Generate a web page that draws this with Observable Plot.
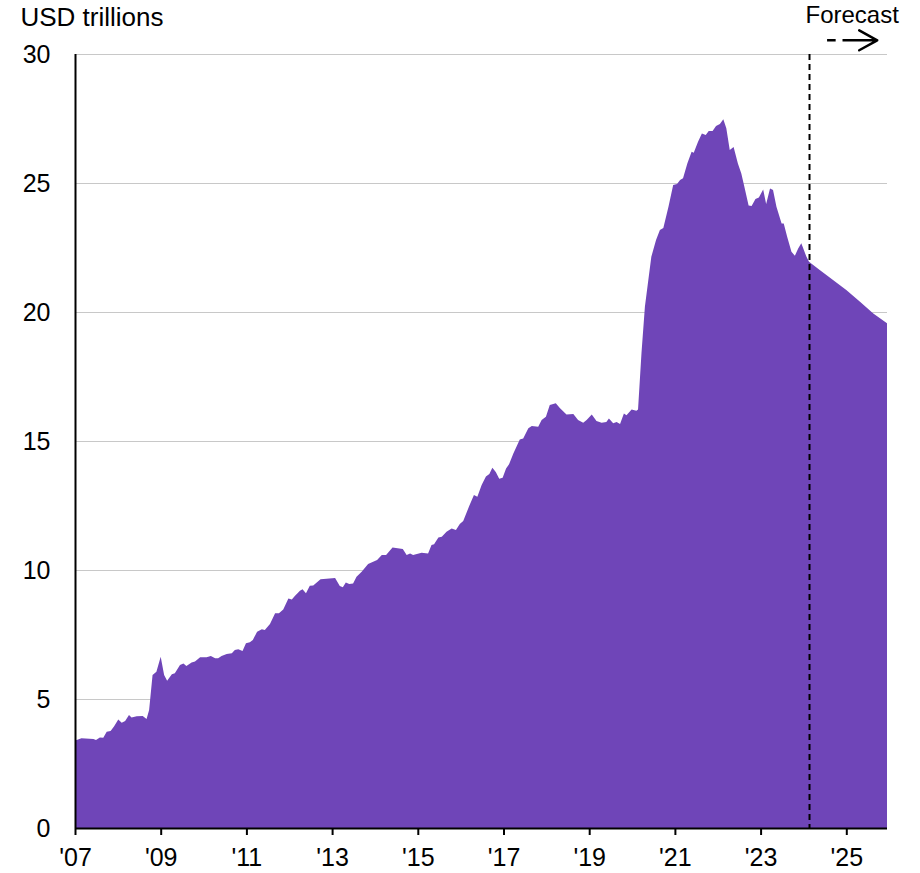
<!DOCTYPE html>
<html>
<head>
<meta charset="utf-8">
<script src="https://cdn.jsdelivr.net/npm/d3@7"></script>
<script src="https://cdn.jsdelivr.net/npm/@observablehq/plot@0.6"></script>
<style>
  html, body { margin: 0; padding: 0; background: #fff; }
</style>
</head>
<body>
<div id="chart"></div>
<script>
// decimal-year dates and values (USD trillions)
const dates = [
  2007.00, 2007.04, 2007.15, 2007.43, 2007.49, 2007.58, 2007.66, 2007.74, 2007.83, 2007.91,
  2008.01, 2008.09, 2008.17, 2008.26, 2008.32, 2008.44, 2008.58, 2008.67, 2008.73, 2008.81,
  2008.90, 2009.00, 2009.08, 2009.15, 2009.26, 2009.33, 2009.45, 2009.53, 2009.60, 2009.72,
  2009.80, 2009.92, 2010.07, 2010.17, 2010.27, 2010.34, 2010.42, 2010.54, 2010.66, 2010.73,
  2010.81, 2010.91, 2010.99, 2011.08, 2011.15, 2011.25, 2011.36, 2011.43, 2011.55, 2011.67,
  2011.76, 2011.86, 2011.98, 2012.06, 2012.13, 2012.25, 2012.31, 2012.39, 2012.48, 2012.56,
  2012.73, 2012.87, 2013.07, 2013.18, 2013.25, 2013.32, 2013.40, 2013.49, 2013.57, 2013.69,
  2013.84, 2014.05, 2014.16, 2014.26, 2014.41, 2014.65, 2014.74, 2014.82, 2014.89, 2015.09,
  2015.24, 2015.32, 2015.38, 2015.48, 2015.56, 2015.67, 2015.79, 2015.89, 2015.98, 2016.06,
  2016.20, 2016.31, 2016.39, 2016.49, 2016.59, 2016.67, 2016.74, 2016.82, 2016.90, 2016.98,
  2017.06, 2017.13, 2017.23, 2017.38, 2017.46, 2017.58, 2017.66, 2017.81, 2017.89, 2017.99,
  2018.08, 2018.22, 2018.32, 2018.47, 2018.63, 2018.74, 2018.86, 2018.94, 2019.06, 2019.17,
  2019.29, 2019.40, 2019.46, 2019.56, 2019.64, 2019.72, 2019.81, 2019.87, 2019.99, 2020.10,
  2020.14, 2020.22, 2020.30, 2020.38, 2020.45, 2020.56, 2020.65, 2020.73, 2020.85, 2020.96,
  2021.05, 2021.12, 2021.19, 2021.29, 2021.39, 2021.44, 2021.54, 2021.63, 2021.72, 2021.79,
  2021.88, 2021.96, 2022.05, 2022.13, 2022.20, 2022.28, 2022.37, 2022.47, 2022.55, 2022.62,
  2022.72, 2022.79, 2022.88, 2022.96, 2023.06, 2023.13, 2023.22, 2023.29, 2023.37, 2023.49,
  2023.54, 2023.62, 2023.72, 2023.80, 2023.88, 2023.95, 2024.07, 2024.13, 2024.38, 2024.69,
  2025.00, 2025.32, 2025.63, 2025.95
];
const values = [
  3.40, 3.41, 3.48, 3.45, 3.41, 3.51, 3.50, 3.73, 3.76, 3.93,
  4.21, 4.08, 4.15, 4.38, 4.28, 4.33, 4.34, 4.22, 4.57, 5.93,
  6.06, 6.64, 5.93, 5.71, 5.96, 6.00, 6.32, 6.38, 6.28, 6.41,
  6.45, 6.62, 6.62, 6.67, 6.58, 6.58, 6.67, 6.74, 6.77, 6.90,
  6.93, 6.86, 7.16, 7.20, 7.29, 7.61, 7.70, 7.67, 7.91, 8.32,
  8.32, 8.47, 8.90, 8.86, 8.99, 9.20, 9.25, 9.10, 9.39, 9.40,
  9.64, 9.66, 9.69, 9.38, 9.33, 9.52, 9.46, 9.48, 9.74, 9.93,
  10.23, 10.39, 10.58, 10.58, 10.87, 10.81, 10.58, 10.64, 10.58, 10.67,
  10.64, 10.97, 11.00, 11.26, 11.29, 11.48, 11.61, 11.55, 11.78, 11.90,
  12.48, 12.91, 12.84, 13.29, 13.62, 13.72, 13.96, 13.80, 13.54, 13.58,
  13.93, 14.10, 14.52, 15.06, 15.10, 15.49, 15.58, 15.55, 15.81, 15.94,
  16.40, 16.46, 16.27, 16.03, 16.05, 15.81, 15.71, 15.81, 16.03, 15.78,
  15.71, 15.74, 15.87, 15.69, 15.74, 15.66, 16.07, 16.00, 16.22, 16.17,
  16.22, 18.40, 20.20, 21.24, 22.14, 22.79, 23.18, 23.26, 24.08, 24.92,
  24.96, 25.12, 25.18, 25.76, 26.21, 26.17, 26.60, 26.92, 26.86, 27.02,
  27.02, 27.21, 27.29, 27.47, 27.12, 26.28, 26.40, 25.76, 25.37, 24.86,
  24.13, 24.11, 24.38, 24.44, 24.75, 24.19, 24.79, 24.73, 24.08, 23.43,
  23.43, 22.92, 22.34, 22.18, 22.47, 22.66, 22.14, 21.95, 21.63, 21.24,
  20.85, 20.40, 19.94, 19.56
];
const xTicks = [2007, 2009, 2011, 2013, 2015, 2017, 2019, 2021, 2023, 2025];
const yTicks = [0, 5, 10, 15, 20, 25, 30];
const forecastStart = 2024.13;
const unitLabel = "USD trillions";
const forecastLabel = "Forecast";

const data = dates.map((d, i) => ({date: d, value: values[i]}));

// arrow annotation (years after the forecast start)
const arrowY = 30.55;
const arrowFrom = forecastStart + 0.14;   // hidden lead-in so the head can be large
const dash1From = forecastStart + 0.41, dash1To = forecastStart + 0.61;
const dash2From = forecastStart + 0.77, tipAt = forecastStart + 1.58;

const chart = Plot.plot({
  width: 920,
  height: 873,
  marginLeft: 75,
  marginRight: 33,
  marginTop: 54,
  marginBottom: 45,
  style: {fontFamily: "'Liberation Sans', Arial, sans-serif", fontSize: "25px", color: "#000", background: "#fff"},
  x: {domain: [2007, 2025.95]},
  y: {domain: [0, 30]},
  marks: [
    Plot.gridY(yTicks, {stroke: "#c8c8c8", strokeOpacity: 1, strokeWidth: 1}),
    Plot.areaY(data, {x: "date", y: "value", fill: "#6f45b8", curve: "linear"}),
    Plot.ruleX([forecastStart], {stroke: "#000", strokeWidth: 2, strokeDasharray: "6,4"}),
    Plot.ruleY([0], {stroke: "#000", strokeWidth: 2}),
    Plot.ruleX([2007], {stroke: "#000", strokeWidth: 2}),
    Plot.axisX(xTicks, {tickSize: 7, tickPadding: 13, strokeWidth: 2, label: null,
      tickFormat: d => "'" + String(d).slice(2), fontSize: 25}),
    Plot.axisY(yTicks, {tickSize: 0, tickPadding: 25, label: null, fontSize: 25}),
    Plot.text([unitLabel], {frameAnchor: "top-left", textAnchor: "start", lineAnchor: "middle", dx: -55, dy: -37, fontSize: 26}),
    Plot.text([forecastLabel], {x: [forecastStart], frameAnchor: "top", textAnchor: "start", lineAnchor: "middle", dx: -4, dy: -39, fontSize: 24}),
    // solid arrow, then white overlays carve out the dashes
    Plot.arrow([0], {x1: arrowFrom, x2: tipAt, y1: arrowY, y2: arrowY, stroke: "#000", strokeWidth: 2.5, headLength: 20, headAngle: 58}),
    Plot.link([0], {x1: arrowFrom - 0.05, x2: dash1From, y1: arrowY, y2: arrowY, stroke: "#fff", strokeWidth: 5}),
    Plot.link([0], {x1: dash1To, x2: dash2From, y1: arrowY, y2: arrowY, stroke: "#fff", strokeWidth: 5})
  ]
});
document.getElementById("chart").appendChild(chart);
</script>
</body>
</html>
